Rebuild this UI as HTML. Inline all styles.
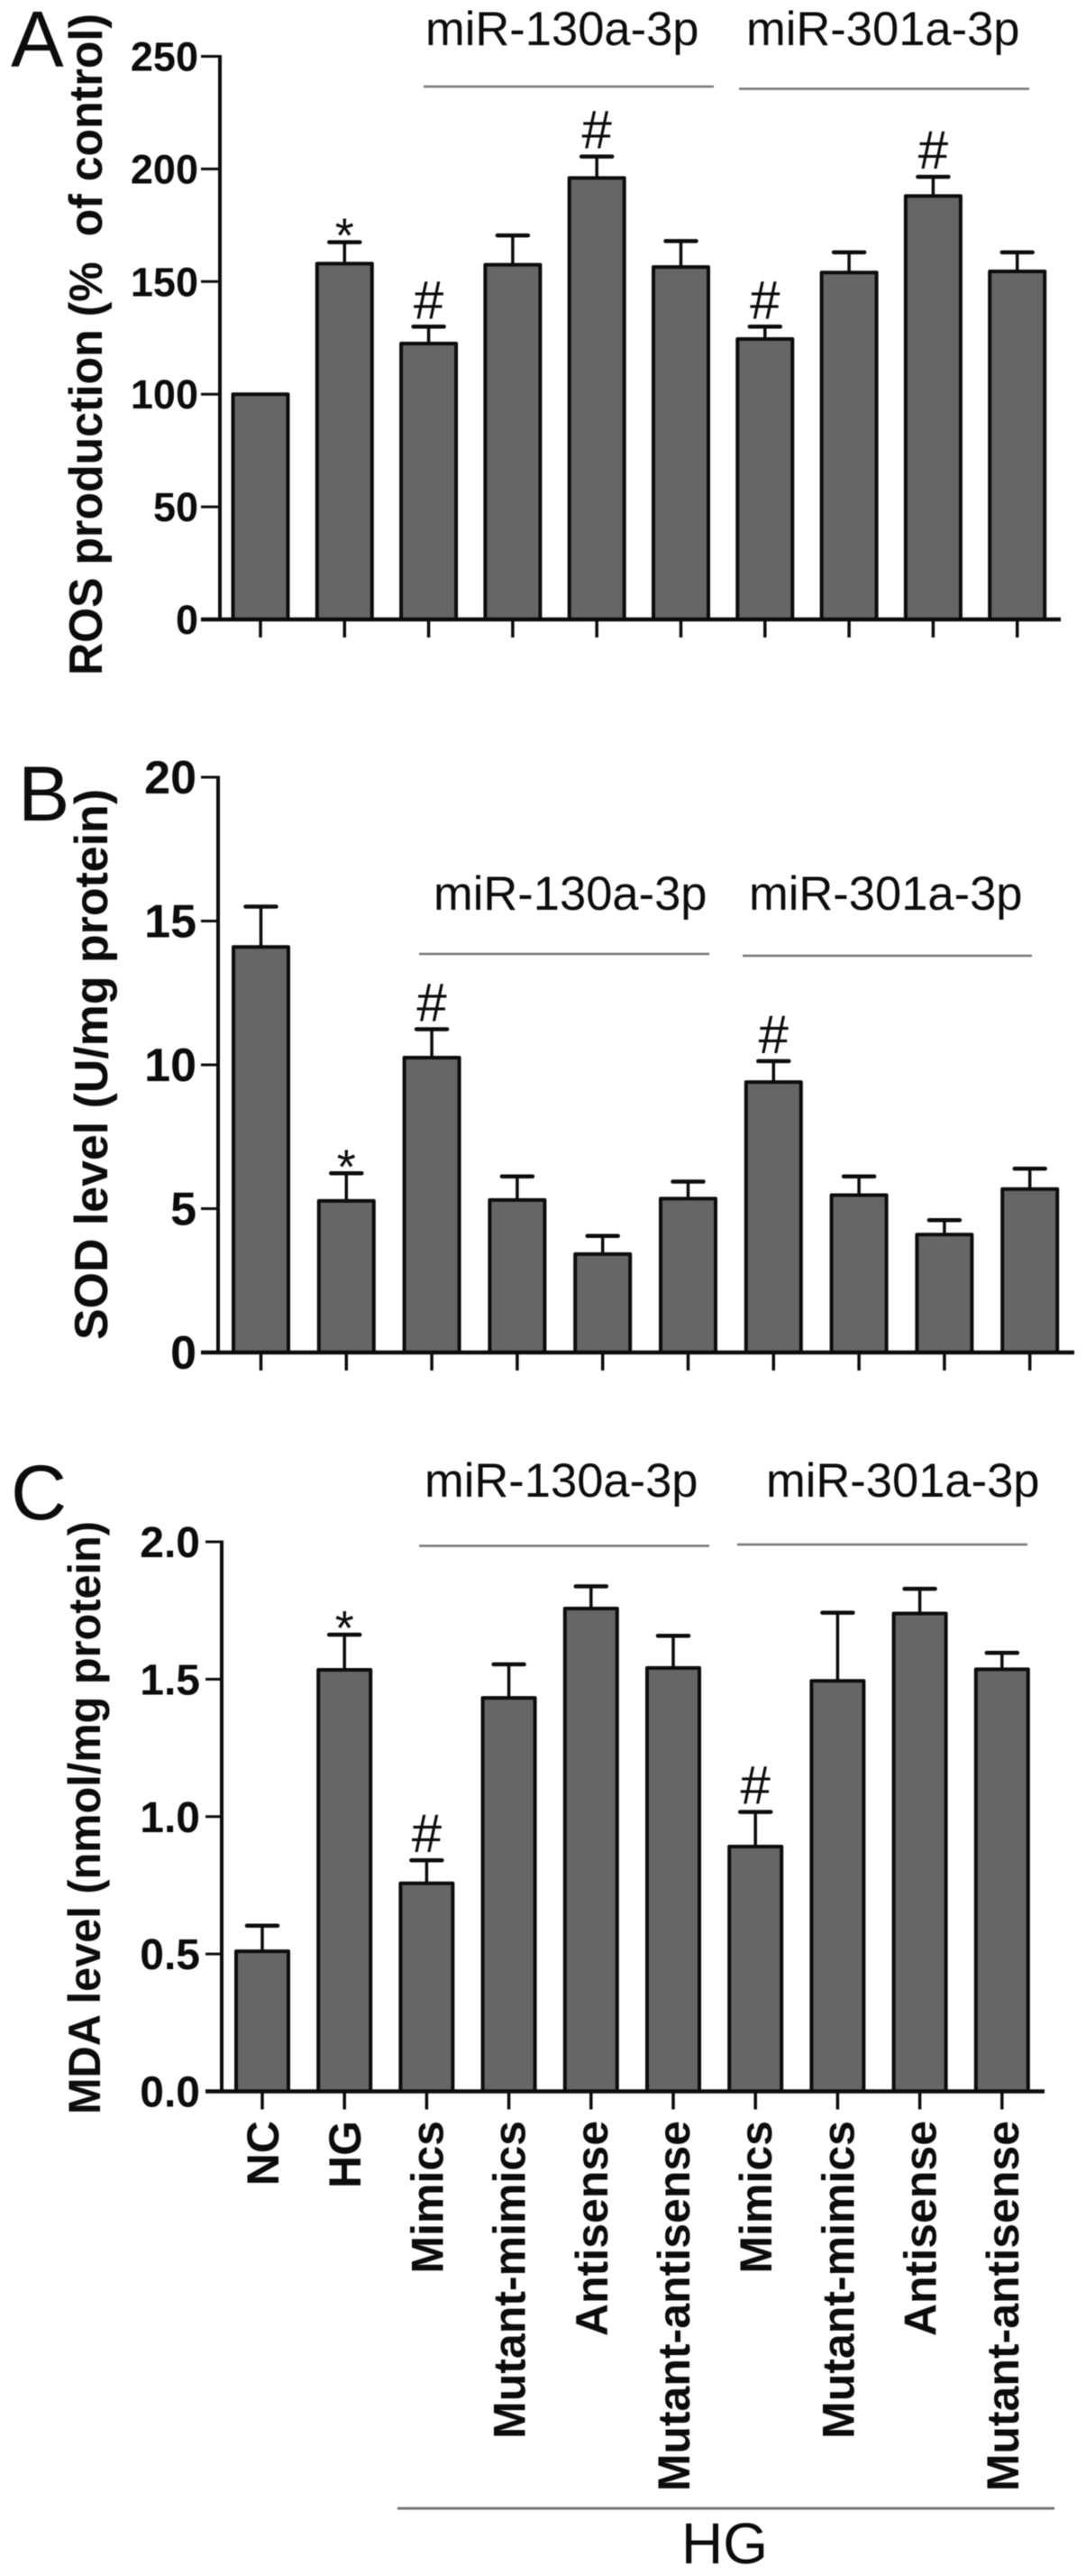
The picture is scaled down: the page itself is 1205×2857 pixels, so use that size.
<!DOCTYPE html>
<html lang="en">
<head>
<meta charset="utf-8">
<title>ROS, SOD and MDA levels</title>
<style>
html,body{margin:0;padding:0;background:#fff;width:1205px;height:2857px;overflow:hidden}
svg{display:block;filter:blur(0.6px)}
text{font-family:"Liberation Sans",Arial,sans-serif;fill:#0c0c0c}
.bold{font-weight:bold}
.group-rule{stroke:#777;stroke-width:2.5}
</style>
</head>
<body>
<svg id="figure" xmlns="http://www.w3.org/2000/svg" width="1205" height="2857" viewBox="0 0 1205 2857">
  <text x="12" y="74" font-size="88">A</text>
  <text x="20" y="910" font-size="86">B</text>
  <text x="12" y="1685" font-size="86">C</text>

  <text class="bold" transform="translate(113,749) rotate(-90)" font-size="52" textLength="734" lengthAdjust="spacingAndGlyphs" xml:space="preserve">ROS production (%  of control)</text>
  <text class="bold" transform="translate(119,1486) rotate(-90)" font-size="52" textLength="611" lengthAdjust="spacingAndGlyphs">SOD level (U/mg protein)</text>
  <text class="bold" transform="translate(111,2345) rotate(-90)" font-size="50" textLength="658" lengthAdjust="spacingAndGlyphs">MDA level (nmol/mg protein)</text>

  <text x="472" y="50" font-size="52.5">miR-130a-3p</text>
  <text x="828" y="50" font-size="52.5">miR-301a-3p</text>
  <line class="group-rule" x1="470" x2="792" y1="96" y2="96"/>
  <line class="group-rule" x1="820" x2="1142" y1="98.5" y2="98.5"/>

  <text x="481" y="1009" font-size="52.5">miR-130a-3p</text>
  <text x="831" y="1009" font-size="52.5">miR-301a-3p</text>
  <line class="group-rule" x1="465" x2="787" y1="1058" y2="1058"/>
  <line class="group-rule" x1="824" x2="1145" y1="1060" y2="1060"/>

  <text x="471" y="1660" font-size="52.5">miR-130a-3p</text>
  <text x="850" y="1660" font-size="52.5">miR-301a-3p</text>
  <line class="group-rule" x1="465" x2="787" y1="1714.5" y2="1714.5"/>
  <line class="group-rule" x1="818" x2="1140" y1="1713" y2="1713"/>

  <line class="group-rule" x1="441" x2="1170" y1="2782" y2="2782" style="stroke-width:3"/>
  <text x="804" y="2843" font-size="64" text-anchor="middle">HG</text>
</svg>
<script>
const categories = ['NC','HG','Mimics','Mutant-mimics','Antisense','Mutant-antisense','Mimics','Mutant-mimics','Antisense','Mutant-antisense'];

const rosValues = [100,158,122.5,157.5,196,156.5,124.5,154,188,154.5];
const rosErrorTops = [100,167.5,130,170.5,205.5,168,130,163,196.5,163];
const rosMarkers = ['','*','#','','#','','#','','#',''];
const rosTicks = [0,50,100,150,200,250];
const rosTickLabels = ['0','50','100','150','200','250'];

const sodValues = [14.1,5.27,10.25,5.3,3.42,5.35,9.4,5.47,4.1,5.68];
const sodErrorTops = [15.5,6.23,11.24,6.12,4.05,5.94,10.13,6.12,4.6,6.39];
const sodMarkers = ['','*','#','','','','#','','',''];
const sodTicks = [0,5,10,15,20];
const sodTickLabels = ['0','5','10','15','20'];

const mdaValues = [0.51,1.534,0.757,1.432,1.757,1.541,0.891,1.494,1.739,1.536];
const mdaErrorTops = [0.603,1.662,0.841,1.554,1.838,1.658,1.017,1.742,1.829,1.596];
const mdaMarkers = ['','*','#','','','','#','','',''];
const mdaTicks = [0,0.5,1,1.5,2];
const mdaTickLabels = ['0.0','0.5','1.0','1.5','2.0'];

const svg = document.getElementById('figure');
const NS = 'http://www.w3.org/2000/svg';

function make(tag, props, parent) {
  const el = document.createElementNS(NS, tag);
  for (const k in props) el.setAttribute(k, props[k]);
  parent.appendChild(el);
  return el;
}

function drawPanel(p) {
  const g = make('g', {}, svg);
  
  

  const yScale = v => p.y0 - (v / p.maxValue) * (p.y0 - p.yTop);
  const xScale = i => p.x0 + i * p.step;
  const baseline = yScale(0);
  const ink = '#0c0c0c';

  p.values.forEach((value, i) => {
    const cx = xScale(i);
    const top = yScale(value);
    const errTop = yScale(p.errors[i]);
    if (p.errors[i] > value) {
      const stem = make('line', {x1: cx, x2: cx, y1: top, y2: errTop, stroke: ink, 'stroke-width': 3.5}, g);
      
      
      const cap = make('line', {x1: cx - 17, x2: cx + 17, y1: errTop, y2: errTop, stroke: ink, 'stroke-width': 4.5, 'stroke-linecap': 'round'}, g);
      
      
    }
    const bar = make('rect', {x: cx - p.barWidth / 2 + 2, y: top, width: p.barWidth - 4, height: baseline - top, fill: '#666666', stroke: ink, 'stroke-width': 4, 'stroke-linejoin': 'round'}, g);
    
    

    const mark = p.markers[i];
    if (mark) {
      const offset = mark === '#' ? -9 : 11;
      const size = mark === '#' ? 60 : 54;
      const t = make('text', {x: cx, y: errTop + offset, 'font-size': size, 'text-anchor': 'middle'}, g);
      t.textContent = mark;
      
      
    }

    const xTick = make('line', {x1: cx, x2: cx, y1: baseline, y2: baseline + p.tickLen, stroke: ink, 'stroke-width': 3.5}, g);
    
    

    if (p.showLabels) {
      const lab = make('text', {'class': 'bold', 'font-size': 50, 'text-anchor': 'end', transform: 'translate(' + (cx + 18) + ',2352) rotate(-90)'}, g);
      lab.textContent = categories[i];
      
      
    }
  });

  const yAxis = make('line', {x1: p.axisX, x2: p.axisX, y1: yScale(p.maxValue) - 1.5, y2: baseline, stroke: ink, 'stroke-width': 4}, g);
  
  

  const xAxis = make('line', {x1: p.axisLeft, x2: p.axisRight, y1: baseline, y2: baseline, stroke: ink, 'stroke-width': 4.5}, g);
  
  

  p.ticks.forEach((tick, i) => {
    const y = yScale(tick);
    if (tick !== 0) {
      const yTick = make('line', {x1: p.axisLeft, x2: p.axisX, y1: y, y2: y, stroke: ink, 'stroke-width': 3}, g);
      
      
    }
    const label = make('text', {'class': 'bold', x: p.labelRight, y: y + p.labelDy, 'font-size': p.labelSize, 'text-anchor': 'end'}, g);
    label.textContent = p.tickLabels[i];
    
    
  });
}

drawPanel({name: 'panel-a', values: rosValues, errors: rosErrorTops, markers: rosMarkers, ticks: rosTicks, tickLabels: rosTickLabels,
  maxValue: 250, yTop: 62.5, y0: 687, x0: 289, step: 93.3, barWidth: 65, axisX: 244, axisLeft: 223, axisRight: 1177,
  tickLen: 20, labelRight: 220, labelDy: 16, labelSize: 45, showLabels: false});

drawPanel({name: 'panel-b', values: sodValues, errors: sodErrorTops, markers: sodMarkers, ticks: sodTicks, tickLabels: sodTickLabels,
  maxValue: 20, yTop: 862, y0: 1500, x0: 289.5, step: 94.8, barWidth: 65, axisX: 242, axisLeft: 223, axisRight: 1192,
  tickLen: 20, labelRight: 218, labelDy: 18, labelSize: 52, showLabels: false});

drawPanel({name: 'panel-c', values: mdaValues, errors: mdaErrorTops, markers: mdaMarkers, ticks: mdaTicks, tickLabels: mdaTickLabels,
  maxValue: 2, yTop: 1710, y0: 2319.5, x0: 291, step: 91.2, barWidth: 62, axisX: 246, axisLeft: 228, axisRight: 1159,
  tickLen: 20, labelRight: 222, labelDy: 17, labelSize: 48, showLabels: true});
</script>
</body>
</html>
